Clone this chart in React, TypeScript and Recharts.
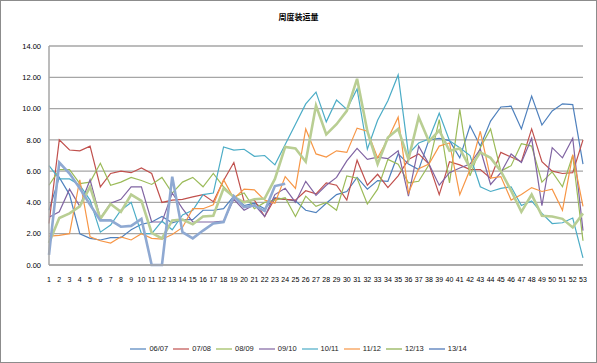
import React from 'react';
import { LineChart, Line, XAxis, YAxis, CartesianGrid, Legend } from 'recharts';

const weeks = ['1','2','3','4','5','6','7','8','9','10','11','12','13','14','15','16','17','18','19','20','21','22','23','24','25','26','27','28','29','30','31','32','33','34','35','36','37','38','39','40','41','42','43','44','45','46','47','48','49','50','51','52','53'];

const yTicks = [0, 2, 4, 6, 8, 10, 12, 14];

const s0607 = [3.5,5.6,4.5,2.0,1.7,1.6,1.75,1.75,2.25,2.6,2.75,3.1,2.7,2.9,2.9,3.5,3.5,3.6,4.4,3.8,3.95,3.6,4.3,4.2,4.1,3.5,3.35,3.95,4.5,4.7,5.6,4.85,5.4,5.35,7.1,6.45,6.1,8.0,8.1,7.95,6.85,8.9,7.6,9.2,10.1,10.15,8.7,10.8,8.95,9.85,10.3,10.25,6.45];
const s0708 = [2.65,8.0,7.35,7.3,7.6,5.0,5.85,6.0,5.9,6.2,5.85,4.0,4.15,4.2,4.35,4.5,4.05,5.4,6.55,4.05,4.15,3.1,4.25,4.2,4.15,4.75,4.55,5.25,5.1,4.15,6.7,5.1,5.8,4.95,5.7,6.75,7.1,6.45,4.5,6.6,6.4,6.1,6.1,5.55,7.2,6.9,6.6,8.7,6.6,6.0,5.85,5.9,8.0];
const s0809 = [5.1,6.1,6.1,5.2,5.3,6.5,5.1,5.3,5.6,5.4,5.15,5.6,4.6,5.3,5.6,5.0,5.85,5.0,4.35,4.6,3.6,4.0,4.15,4.3,3.1,4.4,3.75,4.0,3.5,5.7,5.55,3.9,4.85,6.75,6.45,5.25,5.35,6.4,9.3,5.25,9.95,5.7,7.5,8.7,6.0,6.35,7.75,7.6,5.3,5.95,5.0,7.0,1.55];
const s0910 = [3.05,3.4,4.85,3.75,5.45,3.0,3.95,4.2,5.0,5.0,2.75,2.75,4.6,3.6,2.75,2.75,2.75,2.8,4.2,3.5,3.85,3.1,4.5,4.9,4.0,5.35,4.45,5.1,5.6,6.65,7.45,6.75,6.9,6.8,7.3,4.4,7.6,6.45,5.1,5.9,6.2,6.45,7.4,5.15,5.9,7.1,6.55,8.1,3.8,7.5,6.85,8.1,2.2];
const s1011 = [6.35,5.5,5.5,5.1,4.15,2.1,2.55,3.5,4.0,2.0,2.0,2.8,2.25,3.2,3.5,4.5,4.6,7.55,7.35,7.4,6.95,7.0,6.4,7.7,9.0,10.3,11.05,9.15,10.55,9.95,11.25,7.4,9.25,10.5,12.15,7.1,7.8,8.05,9.7,7.95,7.5,7.0,5.0,4.7,4.9,5.0,3.8,4.1,3.3,2.65,2.7,3.0,0.45];
const s1112 = [1.85,1.9,2.0,5.45,1.8,1.55,1.4,1.8,1.6,2.0,1.7,1.65,1.95,2.4,3.6,3.6,3.85,5.45,4.25,4.85,4.8,4.15,3.95,5.65,4.9,8.7,7.1,6.9,7.3,7.2,8.75,8.55,6.85,8.05,9.45,4.6,6.15,6.45,7.6,7.8,4.5,6.1,8.55,5.55,5.65,4.15,4.5,4.95,4.7,4.85,3.5,7.05,3.75];
const s1213 = [1.4,3.0,3.3,3.75,5.0,2.95,3.9,3.4,4.5,4.1,2.05,1.7,2.85,2.9,2.6,3.1,3.15,4.9,4.35,4.0,4.2,4.25,5.5,7.55,7.45,6.6,10.2,8.35,9.0,9.85,11.9,8.55,6.45,8.15,8.7,6.75,9.45,7.9,8.6,7.3,7.45,6.2,7.2,6.85,6.0,4.75,3.4,4.5,3.15,3.1,2.95,2.4,3.3];
const s1314 = [0.65,6.55,5.85,4.9,3.85,2.85,2.85,2.45,2.5,2.95,0,0,5.65,2.1,1.7,2.2,2.65,2.75,4.4,3.7,3.8,3.45,5.05,5.2];

const seriesNames = ['06/07', '07/08', '08/09', '09/10', '10/11', '11/12', '12/13', '13/14'];
const seriesValues = [s0607, s0708, s0809, s0910, s1011, s1112, s1213, s1314];
const seriesColors = ['#4F81BD', '#C0504D', '#9BBB59', '#8064A2', '#4BACC6', '#F79646', '#B9CE93', '#8FA9D2'];
const seriesWidths = [1.2, 1.2, 1.2, 1.2, 1.2, 1.2, 2.6, 2.6];

const data = weeks.map((w, i) => {
  const row: Record<string, string | number | null> = { week: w };
  seriesNames.forEach((n, k) => {
    const v = seriesValues[k][i];
    row[n] = v === undefined ? null : v;
  });
  return row;
});

const fontFamily = '"Liberation Sans", Arial, sans-serif';

const renderLegend = () => (
  <div style={{ display: 'flex', justifyContent: 'center', paddingTop: 21, fontFamily, fontSize: 7.5, color: '#222' }}>
    {seriesNames.map((n, k) => (
      <div key={n} style={{ display: 'flex', alignItems: 'center', marginRight: k === seriesNames.length - 1 ? 0 : 5 }}>
        <svg width={16} height={8} style={{ marginRight: 3 }}>
          <line x1={0} y1={4} x2={16} y2={4} stroke={seriesColors[k]} strokeWidth={Math.min(seriesWidths[k], 2)} />
        </svg>
        <span>{n}</span>
      </div>
    ))}
  </div>
);

export default function App() {
  return (
    <div style={{ position: 'absolute', left: 0, top: 0, width: 597, height: 363, background: '#fff' }}>
      <div style={{ position: 'absolute', left: 0, top: 11, width: 597, textAlign: 'center', fontFamily: '"Noto Sans CJK SC", sans-serif', fontSize: 8, fontWeight: 700, color: '#000', zIndex: 2 }}>
        周度装运量
      </div>
      <LineChart width={597} height={363} data={data} margin={{ top: 46, right: 14, bottom: 0, left: 0 }}>
        <CartesianGrid vertical={false} stroke="#a6a6a6" strokeWidth={1.3} />
        <XAxis
          dataKey="week"
          interval={0}
          height={58}
          axisLine={{ stroke: '#a6a6a6', strokeWidth: 1.5 }}
          tickLine={false}
          tickMargin={6}
          tick={{ fontSize: 7, fill: '#000', fontFamily }}
        />
        <YAxis
          width={49}
          domain={[0, 14]}
          ticks={yTicks}
          interval={0}
          axisLine={{ stroke: '#a6a6a6', strokeWidth: 1.5 }}
          tickLine={false}
          tickFormatter={(v: number) => v.toFixed(2)}
          tick={{ fontSize: 7.5, fill: '#000', fontFamily }}
        />
        <Legend verticalAlign="bottom" align="center" wrapperStyle={{ height: 40, left: 0, width: 597 }} content={renderLegend} />
        {seriesNames.map((n, k) => (
          <Line
            key={n}
            type="linear"
            dataKey={n}
            name={n}
            stroke={seriesColors[k]}
            strokeWidth={seriesWidths[k]}
            dot={false}
            activeDot={false}
            connectNulls={false}
            isAnimationActive={false}
          />
        ))}
      </LineChart>
      <div style={{ position: 'absolute', left: 0, top: 0, width: 597, height: 363, boxSizing: 'border-box', border: '1px solid #8c8c8c', pointerEvents: 'none' }} />
    </div>
  );
}
